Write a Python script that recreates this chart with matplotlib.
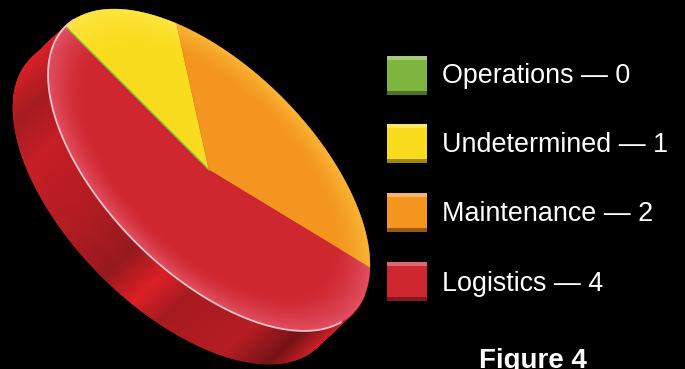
import numpy as np
import matplotlib
matplotlib.use('Agg')
import matplotlib.pyplot as plt
from matplotlib.collections import PolyCollection
from matplotlib.colors import LinearSegmentedColormap, to_rgb
from matplotlib.patches import Polygon, Rectangle

plt.rcParams['font.family'] = ['Liberation Sans', 'DejaVu Sans']

# Pie data
categories = ['Operations', 'Undetermined', 'Maintenance', 'Logistics']
values = [0, 1, 2, 4]
colors = ['#7DB53F', '#FADC1E', '#F3951F', '#CF2730']
rim_colors = ['#A5D060', '#FFE84A', '#FBBE3C', '#EE6C84']
title = 'Figure 4'

# Tilted disc geometry, in pixels
cx, cy = 209, 170
a, b = 203, 103
depth_x, depth_y = -35, 33
start_angle = 180

# Side wall shading along the long axis of the disc
side_cmap = LinearSegmentedColormap.from_list('side', [
    (0.00, '#D81F28'), (0.08, '#A51C21'), (0.18, '#C81F27'), (0.35, '#B51D24'),
    (0.51, '#981A1E'), (0.60, '#E02028'), (0.68, '#A81C21'), (0.85, '#B81D24'),
    (0.945, '#751316'), (1.00, '#C81D25'),
])


def project(u, v):
    # disc coordinates to pixels, long axis running down to the right
    s = np.sqrt(0.5)
    return cx + (u + v) * s, cy + (u - v) * s


def rim_point(theta):
    return project(a * np.cos(theta), b * np.sin(theta))


def wedge_points(t0, t1):
    t = np.radians(np.linspace(t0, t1, 200))
    x, y = rim_point(t)
    return np.column_stack([np.r_[cx, x], np.r_[cy, y]])


fig = plt.figure(figsize=(6.85, 3.69), dpi=100, facecolor='black')
ax = fig.add_axes([0, 0, 1, 1])
ax.set_xlim(0, 685)
ax.set_ylim(369, 0)
ax.axis('off')

# Side wall, built from thin strips between the top rim and its shifted copy
t = np.radians(np.linspace(172, 372, 500))
x, y = rim_point(t)
strips = []
shades = []
for i in range(len(t) - 1):
    strips.append([(x[i], y[i]), (x[i + 1], y[i + 1]),
                   (x[i + 1] + depth_x, y[i + 1] + depth_y),
                   (x[i] + depth_x, y[i] + depth_y)])
    shades.append(side_cmap((np.cos(t[i]) + 1) / 2))
ax.add_collection(PolyCollection(strips, facecolors=shades, edgecolors=shades,
                                 linewidths=0.6, zorder=1))

# Pixel grid for the rim glow on the top face
px, py = np.meshgrid(np.arange(0, 685, 0.5) + 0.25, np.arange(0, 369, 0.5) + 0.25)
du = ((px - cx) + (py - cy)) * np.sqrt(0.5) / a
dv = ((px - cx) - (py - cy)) * np.sqrt(0.5) / b
radius = np.hypot(du, dv)
glow = np.clip((radius - 0.76) / 0.24, 0, 1) ** 1.6

# Top face wedges, clockwise from the upper left end
total = sum(values)
angle = start_angle
for name, val, col, rim in zip(categories, values, colors, rim_colors):
    sweep = val / total * 360
    if val == 0:
        # empty slice shows only as a hairline on its boundary
        x0, y0 = rim_point(np.radians(angle))
        ax.plot([cx, x0], [cy, y0], color=col, lw=1.0, zorder=4)
        continue
    wedge = Polygon(wedge_points(angle, angle - sweep), closed=True, facecolor=col,
                    edgecolor=col, lw=0.3, zorder=2)
    ax.add_patch(wedge)
    strength = 0.6 if name == 'Logistics' else 0.8
    rgba = np.zeros(px.shape + (4,))
    rgba[..., :3] = to_rgb(rim)
    rgba[..., 3] = glow * strength
    im = ax.imshow(rgba, extent=(0, 685, 369, 0), aspect='auto', zorder=3,
                   interpolation='bilinear')
    im.set_clip_path(wedge)
    angle -= sweep

# Pale highlight along the front edge of the top face
t = np.radians(np.linspace(174, 352, 300))
x, y = rim_point(t)
ax.plot(x, y, color='#F0C4CB', lw=1.3, solid_capstyle='round', zorder=5)

ax.set_xlim(0, 685)
ax.set_ylim(369, 0)

# Legend swatches with a bevel, and their labels
for i, (name, val, col) in enumerate(zip(categories, values, colors)):
    top = 55.7 + i * 68.7
    rgb = np.array(to_rgb(col))
    ax.add_patch(Rectangle((387, top), 40, 39, facecolor=col, edgecolor='none', zorder=2))
    ax.add_patch(Rectangle((387, top), 40, 4, zorder=3, edgecolor='none',
                           facecolor=rgb + (1 - rgb) * 0.3))
    ax.add_patch(Rectangle((387, top + 35), 40, 4, zorder=3, edgecolor='none',
                           facecolor=rgb * 0.62))
    ax.text(442, 82.7 + i * 69.3, f'{name} \u2014 {val}', color='white', fontsize=19.4,
            va='baseline', ha='left')

ax.text(532.5, 368, title, color='white', fontsize=20, fontweight='bold',
        va='baseline', ha='center')

fig.savefig('out.png', dpi=100, facecolor='black')
